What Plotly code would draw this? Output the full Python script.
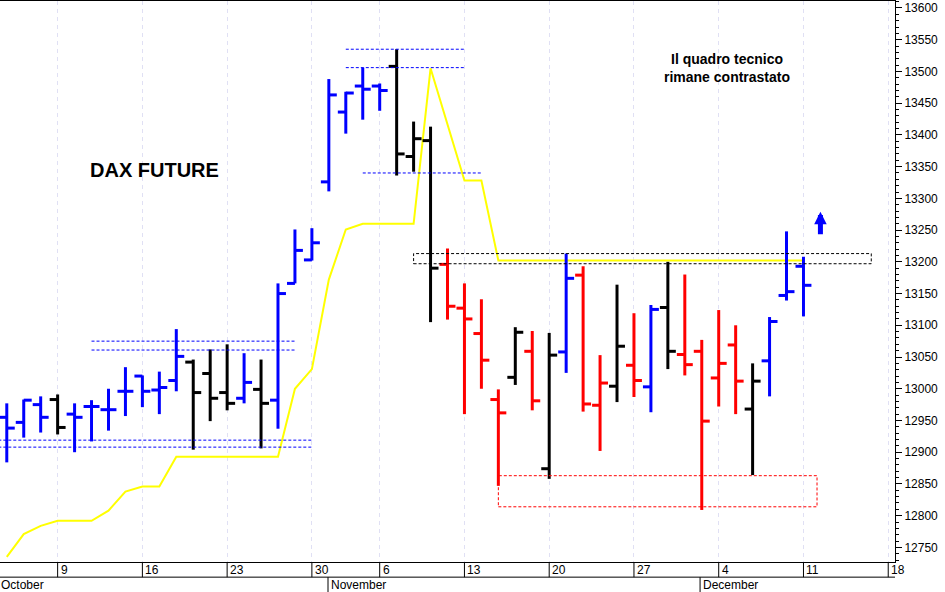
import plotly.graph_objects as go

dates = ["Oct 4","Oct 5","Oct 6","Oct 9","Oct 10","Oct 11","Oct 12","Oct 13","Oct 16","Oct 17",
         "Oct 18","Oct 19","Oct 20","Oct 23","Oct 24","Oct 25","Oct 26","Oct 27","Oct 30","Nov 1",
         "Nov 2","Nov 3","Nov 6","Nov 7","Nov 8","Nov 9","Nov 10","Nov 13","Nov 14","Nov 15",
         "Nov 16","Nov 17","Nov 20","Nov 21","Nov 22","Nov 23","Nov 24","Nov 27","Nov 28","Nov 29",
         "Nov 30","Dec 1","Dec 4","Dec 5","Dec 6","Dec 7","Dec 8","Dec 11"]
opens  = [12955,12947,12975,12983,12960,12972,12967,12996,13020,12998,
          13013,13042,13024,12994,12985,12999,12982,13166,13203,13326,
          13436,13477,13477,13508,13366,13391,13196,13127,13087,12983,
          13018,13059,12874,13058,13179,12974,13004,13037,13003,13128,
          13054,13059,13017,13069,12968,13044,13147,13193]
highs  = [12977,12983,12988,12991,12977,12982,13000,13034,13021,13027,
          13094,13046,13062,13070,13056,13046,13166,13251,13253,13488,
          13468,13506,13481,13535,13421,13413,13221,13166,13141,12999,
          13097,13091,13088,13213,13193,13053,13164,13119,13132,13200,
          13180,13077,13124,13100,13040,13113,13248,13208]
lows   = [12884,12923,12931,12928,12900,12917,12934,12957,12971,12960,
          12996,12904,12949,12966,12977,12906,12937,13166,13202,13311,
          13402,13424,13438,13336,13342,13105,13109,12960,13000,12847,
          13006,12966,12858,13025,12964,12902,12979,12987,12963,13031,
          13021,12809,12972,12960,12864,12988,13139,13114]
closes = [12938,12982,12955,12939,12955,12972,12967,12996,12996,13002,
          13051,12994,12985,12977,13010,12977,13150,13218,13230,13463,
          13466,13472,13470,13370,13394,13190,13130,13110,13045,12962,
          13089,12981,13053,13174,12976,13009,13067,13013,13125,13059,
          13038,12949,13040,13012,13012,13106,13153,13163]
signal = ["blue","blue","blue","black","blue","blue","blue","blue","blue","blue",
          "blue","black","black","black","blue","black","blue","blue","blue","blue",
          "blue","blue","blue","black","black","black","red","red","red","red",
          "black","red","black","blue","red","red","black","red","blue","black",
          "red","red","red","red","black","blue","blue","blue"]
stop_line = [12735,12771,12784,12792,12792,12792,12808,12838,12846,12846,
             12893,12893,12893,12893,12893,12893,12893,13000,13031,13172,
             13251,13260,13260,13260,13260,13505,13416,13328,13328,13202,
             13202,13202,13202,13202,13202,13202,13202,13202,13202,13202,
             13202,13202,13202,13202,13202,13202,13202,13202]
monday_idx = [3, 8, 13, 18, 22, 27, 32, 37, 42, 47, 52]
monday_lbl = ["9", "16", "23", "30", "6", "13", "20", "27", "4", "11", "18"]
month_idx = [18.95, 40.9]
month_lbl = ["November", "December"]

colors = {"blue": "#0000FF", "black": "#000000", "red": "#FF0000"}
idx = list(range(len(dates)))
fig = go.Figure()

fig.add_trace(go.Scatter(x=idx, y=stop_line, mode="lines",
                         line=dict(color="#FFFF00", width=2), hoverinfo="skip"))

tw = 0.47
for c, col in colors.items():
    xs, ys = [], []
    for i in idx:
        if signal[i] != c:
            continue
        xs += [i, i, None, i - tw, i, None, i, i + tw, None]
        ys += [lows[i], highs[i], None, opens[i], opens[i], None, closes[i], closes[i], None]
    fig.add_trace(go.Scatter(x=xs, y=ys, mode="lines", line=dict(color=col, width=3),
                             hoverinfo="skip"))

DASH = "3px,2px"
shapes = []
def hline(x0, x1, y, col):
    shapes.append(dict(type="line", x0=x0, x1=x1, y0=y, y1=y, xref="x", yref="y",
                       line=dict(color=col, width=1, dash=DASH)))
for y in (13075, 13061):
    hline(5, 17, y, "#0000FF")
for y in (12919, 12908):
    hline(-0.5, 18, y, "#0000FF")
for y in (13535, 13506):
    hline(20, 27, y, "#0000FF")
hline(21, 28, 13340, "#0000FF")
shapes.append(dict(type="rect", x0=24, x1=51, y0=13197, y1=13213, xref="x", yref="y",
                   line=dict(color="black", width=1, dash=DASH)))
shapes.append(dict(type="rect", x0=29, x1=47.8, y0=12814, y1=12863, xref="x", yref="y",
                   line=dict(color="#FF0000", width=1, dash=DASH)))
# bottom label rows
shapes.append(dict(type="line", xref="paper", yref="paper", x0=0, x1=1, y0=-0.027, y1=-0.027,
                   line=dict(color="black", width=1)))
for m in monday_idx:
    shapes.append(dict(type="line", xref="x", yref="paper", x0=m, x1=m, y0=0, y1=-0.027,
                       line=dict(color="black", width=1)))
for m in month_idx:
    shapes.append(dict(type="line", xref="x", yref="paper", x0=m, x1=m, y0=-0.027, y1=-0.06,
                       line=dict(color="black", width=1)))

ann = []
for m, l in zip(monday_idx, monday_lbl):
    ann.append(dict(x=m, y=0, xref="x", yref="paper", text=l, showarrow=False,
                    xanchor="left", yanchor="top", xshift=1, yshift=1,
                    font=dict(family="Arial", size=12, color="black")))
for m, l in zip(month_idx, month_lbl):
    ann.append(dict(x=m, y=-0.027, xref="x", yref="paper", text=l, showarrow=False,
                    xanchor="left", yanchor="top", xshift=1, yshift=1,
                    font=dict(family="Arial", size=12, color="black")))
ann.append(dict(x=0, y=-0.027, xref="paper", yref="paper", text="October", showarrow=False,
                xanchor="left", yanchor="top", xshift=-1, yshift=1,
                font=dict(family="Arial", size=12, color="black")))
ann.append(dict(x=8.7, y=13345, xref="x", yref="y", text="<b>DAX FUTURE</b>", showarrow=False,
                font=dict(family="Arial", size=20, color="black")))
ann.append(dict(x=42.5, y=13505, xref="x", yref="y",
                text="<b>Il quadro tecnico<br>rimane contrastato</b>", showarrow=False,
                font=dict(family="Liberation Sans Narrow, Arial Narrow, Arial", size=14, color="black")))
ann.append(dict(x=48, y=13279, ax=0, ay=24, xref="x", yref="y",
                text="", showarrow=True, arrowhead=2, arrowsize=0.5, arrowwidth=5,
                arrowcolor="#0000FF"))

fig.update_layout(
    width=945, height=592, margin=dict(l=0, r=50, t=1, b=30),
    paper_bgcolor="white", plot_bgcolor="white", showlegend=False,
    shapes=shapes, annotations=ann,
    xaxis=dict(range=[-0.4, 52.4], tickvals=monday_idx, showticklabels=False,
               showgrid=True, gridcolor="#E0E0F4", griddash="4px,4px", gridwidth=1,
               zeroline=False, showline=True, linecolor="black", mirror=True, ticks=""),
    yaxis=dict(range=[12727, 13611], side="right", dtick=50, tick0=12750, tickformat="d",
               showgrid=False, zeroline=False, showline=True, linecolor="black", mirror=True,
               ticks="outside", ticklen=6, tickcolor="black",
               minor=dict(dtick=10, ticks="outside", ticklen=3, tickcolor="black"),
               tickfont=dict(family="Arial", size=12, color="black")),
)
fig.write_html("out.html", config={"displayModeBar": False},
               post_script="document.body.style.margin='0';")
